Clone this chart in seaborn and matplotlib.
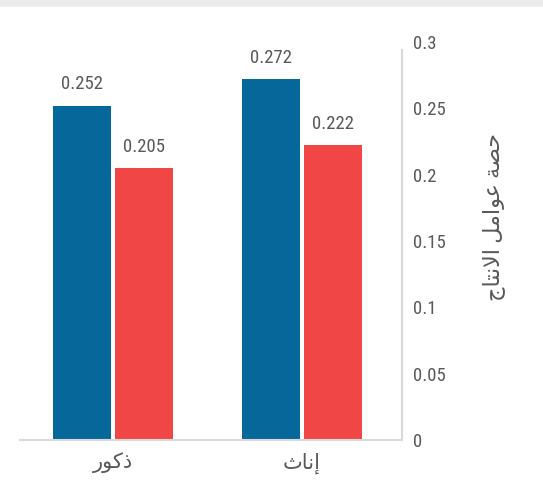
import matplotlib
matplotlib.use("Agg")
import matplotlib.pyplot as plt
from matplotlib.patches import Rectangle
from matplotlib import font_manager
import seaborn as sns
import pandas as pd

# ---- data ----
categories = ["ذكور", "إناث"]
series_names = ["series_1", "series_2"]
series_1 = [0.252, 0.272]
series_2 = [0.205, 0.222]
y_ticks = [0, 0.05, 0.1, 0.15, 0.2, 0.25, 0.3]
y_tick_labels = ["0", "0.05", "0.1", "0.15", "0.2", "0.25", "0.3"]
y_title = "حصة عوامل الانتاج"
colors = ["#06679a", "#f04646"]
text_color = "#595959"
rule_color = "#d9d9d9"

# ---- minimal Arabic shaping (presentation forms + visual order) ----
# (isolated, final, initial, medial); None for initial/medial means right-joining only
FORMS = {
    "\u0627": ("\uFE8D", "\uFE8E", None, None),
    "\u0625": ("\uFE87", "\uFE88", None, None),
    "\u0623": ("\uFE83", "\uFE84", None, None),
    "\u0628": ("\uFE8F", "\uFE90", "\uFE91", "\uFE92"),
    "\u0629": ("\uFE93", "\uFE94", None, None),
    "\u062A": ("\uFE95", "\uFE96", "\uFE97", "\uFE98"),
    "\u062B": ("\uFE99", "\uFE9A", "\uFE9B", "\uFE9C"),
    "\u062C": ("\uFE9D", "\uFE9E", "\uFE9F", "\uFEA0"),
    "\u062D": ("\uFEA1", "\uFEA2", "\uFEA3", "\uFEA4"),
    "\u062F": ("\uFEA9", "\uFEAA", None, None),
    "\u0630": ("\uFEAB", "\uFEAC", None, None),
    "\u0631": ("\uFEAD", "\uFEAE", None, None),
    "\u0635": ("\uFEB9", "\uFEBA", "\uFEBB", "\uFEBC"),
    "\u0639": ("\uFEC9", "\uFECA", "\uFECB", "\uFECC"),
    "\u0643": ("\uFED9", "\uFEDA", "\uFEDB", "\uFEDC"),
    "\u0644": ("\uFEDD", "\uFEDE", "\uFEDF", "\uFEE0"),
    "\u0645": ("\uFEE1", "\uFEE2", "\uFEE3", "\uFEE4"),
    "\u0646": ("\uFEE5", "\uFEE6", "\uFEE7", "\uFEE8"),
    "\u0648": ("\uFEED", "\uFEEE", None, None),
    # lam-alef ligatures
    "LA\u0627": ("\uFEFB", "\uFEFC", None, None),
    "LA\u0625": ("\uFEF9", "\uFEFA", None, None),
    "LA\u0623": ("\uFEF7", "\uFEF8", None, None),
}
ALEFS = ("\u0627", "\u0625", "\u0623")


def shape(text):
    tokens = []
    i = 0
    while i < len(text):
        if text[i] == "\u0644" and i + 1 < len(text) and text[i + 1] in ALEFS:
            tokens.append("LA" + text[i + 1])
            i += 2
        else:
            tokens.append(text[i])
            i += 1
    out = []
    for k, t in enumerate(tokens):
        if t not in FORMS:
            out.append(t)
            continue
        prev = tokens[k - 1] if k > 0 else None
        nxt = tokens[k + 1] if k + 1 < len(tokens) else None
        joins_prev = prev in FORMS and FORMS[prev][2] is not None
        dual = FORMS[t][2] is not None
        joins_next = dual and nxt in FORMS
        iso, fin, ini, med = FORMS[t]
        if joins_prev and joins_next:
            out.append(med)
        elif joins_prev:
            out.append(fin)
        elif joins_next:
            out.append(ini)
        else:
            out.append(iso)
    return "".join(reversed(out))


# ---- figure ----
sns.set_theme(style="white")
installed = {f.name for f in font_manager.fontManager.ttflist}
families = [f for f in ("Roboto Condensed", "Liberation Sans Narrow", "Roboto")
            if f in installed] + ["DejaVu Sans"]
plt.rcParams["font.family"] = families

df = pd.DataFrame({
    "category": categories * 2,
    "series": [series_names[0]] * len(categories) + [series_names[1]] * len(categories),
    "value": series_1 + series_2,
})

W, H = 543, 496
fig = plt.figure(figsize=(W / 100, H / 100), dpi=100)
fig.patch.set_facecolor("white")
fig.patches.append(Rectangle((0, 1 - 7 / H), 1, 7 / H, transform=fig.transFigure,
                             facecolor="#ebebeb", edgecolor="none", zorder=0))

ax = fig.add_axes([20 / W, (H - 440) / H, (402 - 20) / W, (440 - 42) / H])
sns.barplot(data=df, x="category", y="value", hue="series", order=categories,
            hue_order=series_names, palette=colors, width=0.656, gap=0.065,
            saturation=1, legend=False, linewidth=0, edgecolor="none", ax=ax)

ax.set_xlim(-0.49, 1.53)
ax.set_ylim(0, 0.3)

for cont in ax.containers:
    ax.bar_label(cont, fmt="%.3f", padding=9, fontsize=13.5, color=text_color)

# right-hand value axis
ax.yaxis.tick_right()
ax.yaxis.set_label_position("right")
ax.set_yticks(y_ticks)
ax.set_yticklabels(y_tick_labels)
ax.tick_params(axis="y", length=0, pad=8, labelsize=13.5, labelcolor=text_color)
for lbl in ax.get_yticklabels():
    lbl.set_horizontalalignment("left")

ax.set_xticks(range(len(categories)))
ax.set_xticklabels([shape(c) for c in categories])
ax.tick_params(axis="x", length=0, pad=9, labelsize=15, labelcolor=text_color)

ax.set_xlabel("")
ax.set_ylabel(shape(y_title), fontsize=16, color=text_color, rotation=90)
ax.yaxis.set_label_coords(1.21, 0.56)

for side in ("top", "left"):
    ax.spines[side].set_visible(False)
ax.spines["right"].set_color(rule_color)
ax.spines["right"].set_linewidth(1.5)
ax.spines["right"].set_bounds(0, 0.294)
ax.spines["bottom"].set_color(rule_color)
ax.spines["bottom"].set_linewidth(1.5)
ax.grid(False)

fig.savefig("out.png", dpi=100)
